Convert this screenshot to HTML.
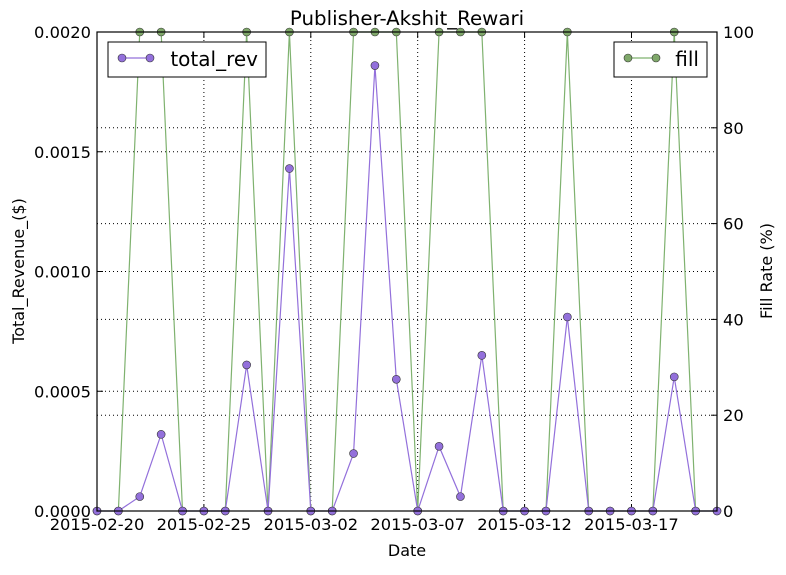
<!DOCTYPE html>
<html><head><meta charset="utf-8"><style>
body{margin:0;background:#fff}
text{font-family:"DejaVu Sans","Liberation Sans",sans-serif}
</style></head><body>
<svg id="c" width="786" height="570" xmlns="http://www.w3.org/2000/svg"></svg>
<script>
const dates=['2015-02-20','2015-02-25','2015-03-02','2015-03-07','2015-03-12','2015-03-17'];
const days=[0,1,2,3,4,5,6,7,8,9,10,11,12,13,14,15,16,17,18,19,20,21,22,23,24,25,26,27,28,29];
const revenue=[0,0,0.00006,0.00032,0,0,0,0.00061,0,0.00143,0,0,0.00024,0.00186,0.00055,0,0.00027,0.00006,0.00065,0,0,0,0.00081,0,0,0,0,0.00056,0,0];
const fill=[0,0,100,100,0,0,0,100,0,100,0,0,100,100,100,0,100,100,100,0,0,0,100,0,0,0,0,100,0,0];
const leftTicks=['0.0000','0.0005','0.0010','0.0015','0.0020'];
const rightTicks=[0,20,40,60,80,100];
const L=97,R=717,T=32,B=511;
const sx=d=>L+(R-L)*d/29;
const syL=v=>B-(B-T)*v/0.002;
const syR=v=>B-(B-T)*v/100;
const svg=document.getElementById('c');
const NS='http://www.w3.org/2000/svg';
function mk(tag,at,parent){const e=document.createElementNS(NS,tag);for(const k in at)e.setAttribute(k,at[k]);(parent||svg).appendChild(e);return e;}
const grid=mk('g',{});


dates.forEach((d,i)=>{const x=sx(i*5);mk('line',{x1:x,x2:x,y1:T,y2:B,stroke:'#000','stroke-dasharray':'1,3','stroke-width':1},grid);
 const t=mk('text',{x:x,y:B+19,'text-anchor':'middle','font-size':16.3});t.textContent=d;
 
 
 mk('line',{x1:x,x2:x,y1:B,y2:B-6,stroke:'#000'});mk('line',{x1:x,x2:x,y1:T,y2:T+6,stroke:'#000'});});
leftTicks.forEach((s,i)=>{const y=syL(parseFloat(s));mk('line',{x1:L,x2:R,y1:y,y2:y,stroke:'#000','stroke-dasharray':'1,3'},grid);
 const t=mk('text',{x:L-6,y:y+6,'text-anchor':'end','font-size':16.3});t.textContent=s;
 
 
 mk('line',{x1:L,x2:L+6,y1:y,y2:y,stroke:'#000'});});
rightTicks.forEach(v=>{const y=syR(v);mk('line',{x1:L,x2:R,y1:y,y2:y,stroke:'#000','stroke-dasharray':'1,3'},grid);
 const t=mk('text',{x:R+6,y:y+6,'font-size':16.3});t.textContent=v;
 
 
 mk('line',{x1:R,x2:R-6,y1:y,y2:y,stroke:'#000'});});
function series(vals,sy,color,fc,name){const g=mk('g',{});
 
 
 mk('polyline',{points:vals.map((v,i)=>sx(days[i])+','+sy(v)).join(' '),fill:'none',stroke:color,'stroke-width':1.2},g);
 vals.forEach((v,i)=>{const c=mk('circle',{cx:sx(days[i]),cy:sy(v),r:4,fill:fc,stroke:'#333','stroke-width':0.6},g);
  
  });}
series(fill,syR,'#7fb26f','#7fa86a','fill-series');
series(revenue,syL,'#9370db','#9370db','revenue-series');
mk('rect',{x:L,y:T,width:R-L,height:B-T,fill:'none',stroke:'#000','stroke-width':1.2});
function legend(x,w,label,line,fc,name){const g=mk('g',{});
 
 
 mk('rect',{x:x,y:42,width:w,height:35,fill:'#fff',stroke:'#000'},g);
 mk('line',{x1:x+14,x2:x+42,y1:58,y2:58,stroke:line,'stroke-width':1.2},g);
 mk('circle',{cx:x+14,cy:58,r:4,fill:fc,stroke:'#333','stroke-width':0.6},g);
 mk('circle',{cx:x+42,cy:58,r:4,fill:fc,stroke:'#333','stroke-width':0.6},g);
 const t=mk('text',{x:x+w-8,y:66,'text-anchor':'end','font-size':20},g);t.textContent=label;}
legend(108,158,'total_rev','#9370db','#9370db','legend-total-rev');
legend(614,93,'fill','#7fb26f','#7fa86a','legend-fill');
function txt(s,at,name){const t=mk('text',at);t.textContent=s;
 
 }
txt('Publisher-Akshit_Rewari',{x:407,y:25,'text-anchor':'middle','font-size':19.8},'chart-title');
txt('Date',{x:407,y:556,'text-anchor':'middle','font-size':16},'x-axis-title');
txt('Total_Revenue_($)',{x:0,y:0,'text-anchor':'middle','font-size':16,transform:'translate(24,271) rotate(-90)'},'y-left-axis-title');
txt('Fill Rate (%)',{x:0,y:0,'text-anchor':'middle','font-size':16,transform:'translate(772,271) rotate(-90)'},'y-right-axis-title');
</script>
</body></html>
